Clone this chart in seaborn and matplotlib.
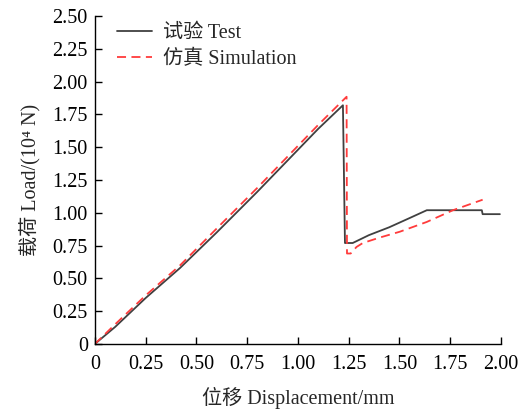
import pandas as pd
import matplotlib.pyplot as plt
import seaborn as sns

# Test curve (displacement mm, load 10^4 N)
test_x = [0, 0.10, 0.25, 0.42, 0.60, 0.80, 1.00, 1.10, 1.222, 1.232, 1.27, 1.35, 1.45, 1.55, 1.635, 1.75, 1.906, 1.91, 1.995]
test_y = [0, 0.13, 0.35, 0.58, 0.85, 1.16, 1.48, 1.64, 1.82, 0.77, 0.77, 0.83, 0.89, 0.96, 1.02, 1.02, 1.02, 0.99, 0.99]

# Simulation curve
sim_x = [0, 0.10, 0.25, 0.42, 0.60, 0.80, 1.00, 1.10, 1.24, 1.242, 1.26, 1.289, 1.32, 1.40, 1.502, 1.634, 1.764, 1.91]
sim_y = [0, 0.15, 0.37, 0.60, 0.88, 1.19, 1.51, 1.67, 1.885, 0.69, 0.69, 0.74, 0.77, 0.81, 0.856, 0.93, 1.02, 1.10]

test = pd.DataFrame({'x': test_x, 'y': test_y})
sim = pd.DataFrame({'x': sim_x, 'y': sim_y})

sns.set_style('ticks')
plt.rcParams['font.family'] = ['Liberation Serif', 'Noto Sans CJK SC']
plt.rcParams['xtick.direction'] = 'in'
plt.rcParams['ytick.direction'] = 'in'

fig = plt.figure(figsize=(5.18, 4.12), dpi=100)
ax = fig.add_axes([0.183, 0.165, 0.784, 0.796])

sns.lineplot(data=test, x='x', y='y', sort=False, ax=ax, color='#404040',
             linewidth=1.3, label='试验 Test')
sns.lineplot(data=sim, x='x', y='y', sort=False, ax=ax, color='#ff3b3b',
             linewidth=1.3, dashes=False, label='仿真 Simulation')
ax.lines[1].set_dashes((5, 3))

ax.set_xlim(0, 2.0)
ax.set_ylim(0, 2.5)
xt = [0, 0.25, 0.5, 0.75, 1.0, 1.25, 1.5, 1.75, 2.0]
yt = [0, 0.25, 0.5, 0.75, 1.0, 1.25, 1.5, 1.75, 2.0, 2.25, 2.5]
ax.set_xticks(xt)
ax.set_xticklabels(['0'] + [f'{v:.2f}' for v in xt[1:]])
ax.set_yticks(yt)
ax.set_yticklabels(['0'] + [f'{v:.2f}' for v in yt[1:]])
ax.tick_params(labelsize=14.5, length=5, width=1, colors='black')
ax.tick_params(axis='x', pad=8)
ax.tick_params(axis='y', pad=5)

ax.set_xlabel('位移 Displacement/mm', fontsize=14.5, labelpad=9)
ax.set_ylabel('载荷 Load/(10⁴ N)', fontsize=14.5, labelpad=8)

for s in ['top', 'right']:
    ax.spines[s].set_visible(False)
for s in ['left', 'bottom']:
    ax.spines[s].set_color('black')
    ax.spines[s].set_linewidth(1)

ax.legend(loc='upper left', bbox_to_anchor=(0.01, 1.03), frameon=False,
          fontsize=14.5, handlelength=1.75, handletextpad=0.55,
          labelspacing=0.3)

fig.savefig('out.png', dpi=100)
